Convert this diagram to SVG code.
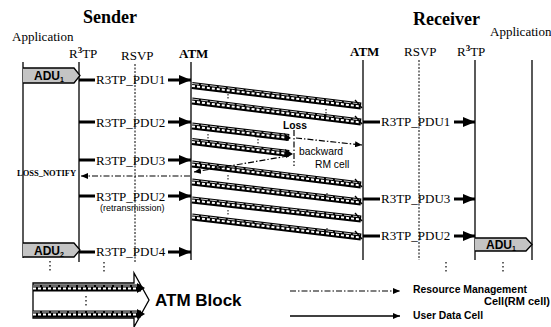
<svg xmlns="http://www.w3.org/2000/svg" width="551" height="327" viewBox="0 0 551 327">
<style>
.title{font-family:"Liberation Serif",serif;font-weight:bold;font-size:18px;fill:#000}
.app{font-family:"Liberation Serif",serif;font-size:13px;fill:#000}
.col{font-family:"Liberation Serif",serif;font-size:13px;fill:#000}
.colb{font-family:"Liberation Serif",serif;font-size:13px;font-weight:bold;fill:#000}
.pdu{font-family:"Liberation Serif",serif;font-size:13px;fill:#000}
.sm{font-family:"Liberation Sans",Arial,sans-serif;font-size:9px;fill:#000}
.lbl{font-family:"Liberation Sans",Arial,sans-serif;font-size:10.3px;fill:#000}
.lblb{font-family:"Liberation Sans",Arial,sans-serif;font-size:10.3px;font-weight:bold;fill:#000}
.leg{font-family:"Liberation Sans",Arial,sans-serif;font-size:11px;font-weight:bold;fill:#000}
.adu{font-family:"Liberation Sans",Arial,sans-serif;font-size:12px;font-weight:bold;fill:#000}
.big{font-family:"Liberation Sans",Arial,sans-serif;font-size:17px;font-weight:bold;fill:#000}
.ln{stroke:#000;stroke-width:1.3;fill:none}
.dl{stroke:#000;stroke-width:1;stroke-dasharray:2 1.5;fill:none}
.dots{stroke:#000;stroke-width:1.2;stroke-dasharray:1.5 2.5;fill:none}
.thick{stroke:#000;stroke-width:3;fill:none}
.bb{stroke:#000;stroke-width:7;fill:none}
.bw{stroke:#fff;stroke-width:2;stroke-dasharray:3 2;fill:none}
.bt{stroke:#fff;stroke-width:0.8;stroke-dasharray:7 2;fill:none}
.dd{stroke:#000;stroke-width:1.2;stroke-dasharray:6 2 1.5 2;fill:none}
.tick{stroke:#000;stroke-width:1;stroke-dasharray:1.5 1.5}
.aduf{fill:#c4c4c4;stroke:#000;stroke-width:1.3}
</style>
<defs>
<marker id="tri" markerUnits="userSpaceOnUse" markerWidth="13" markerHeight="10" refX="12" refY="5" orient="auto">
<path d="M0,0 L12,5 L0,10 Z" fill="#000"/>
</marker>
<marker id="sa" markerUnits="userSpaceOnUse" markerWidth="8" markerHeight="6" refX="7" refY="3" orient="auto">
<path d="M0,0 L7,3 L0,6 Z" fill="#000"/>
</marker>
</defs>
<rect width="551" height="327" fill="#fff"/>

<g id="titles">
<text class="title" x="83" y="23">Sender</text>
<text class="title" x="413" y="25">Receiver</text>
</g>

<g id="sender-app">
<text class="app" x="12" y="41">Application</text>
<line class="ln" x1="23" y1="62" x2="23" y2="258"/>
</g>
<g id="sender-r3tp">
<text class="col" x="69" y="58">R<tspan font-size="9" font-weight="bold" dy="-5">3</tspan><tspan dy="5">TP</tspan></text>
<line class="ln" x1="79" y1="62" x2="79" y2="262"/>
</g>
<g id="sender-rsvp">
<text class="col" x="121" y="60">RSVP</text>
<line class="dl" x1="135" y1="64" x2="135" y2="262"/>
</g>
<g id="sender-atm">
<text class="colb" x="179" y="58">ATM</text>
<line class="ln" x1="191" y1="62" x2="191" y2="260"/>
</g>
<g id="receiver-atm">
<text class="colb" x="350" y="56">ATM</text>
<line class="ln" x1="363" y1="60" x2="363" y2="260"/>
</g>
<g id="receiver-rsvp">
<text class="col" x="404" y="56">RSVP</text>
<line class="dl" x1="419" y1="60" x2="419" y2="260"/>
</g>
<g id="receiver-r3tp">
<text class="col" x="457" y="56">R<tspan font-size="9" font-weight="bold" dy="-5">3</tspan><tspan dy="5">TP</tspan></text>
<line class="ln" x1="475" y1="60" x2="475" y2="260"/>
</g>
<g id="receiver-app">
<text class="app" x="490" y="36">Application</text>
<line class="ln" x1="532" y1="60" x2="532" y2="260"/>
</g>

<g id="adu1-sender">
<path class="aduf" d="M23,68 H74 L80,75.5 L74,83 H23"/>
<text class="adu" x="34" y="80">ADU<tspan font-size="7" dy="2">1</tspan></text>
</g>
<g id="adu2-sender">
<path class="aduf" d="M23,243 H74 L80,250 L74,257 H23"/>
<text class="adu" x="34" y="255">ADU<tspan font-size="7" dy="2">2</tspan></text>
</g>
<g id="adu1-receiver">
<path class="aduf" d="M475,238 H526 L532,244.5 L526,251 H475"/>
<text class="adu" x="486" y="249">ADU<tspan font-size="7" dy="2">1</tspan></text>
</g>

<g id="connectors">
<line class="thick" x1="79" y1="80" x2="95" y2="80"/>
<text class="pdu" x="96" y="84">R3TP_PDU1</text>
<line class="thick" x1="168" y1="80" x2="191" y2="80" marker-end="url(#tri)"/>

<line class="thick" x1="79" y1="122" x2="95" y2="122"/>
<text class="pdu" x="96" y="127">R3TP_PDU2</text>
<line class="thick" x1="168" y1="122" x2="191" y2="122" marker-end="url(#tri)"/>

<line class="thick" x1="79" y1="160" x2="95" y2="160"/>
<text class="pdu" x="96" y="165">R3TP_PDU3</text>
<line class="thick" x1="168" y1="160" x2="191" y2="160" marker-end="url(#tri)"/>

<line class="thick" x1="79" y1="196" x2="95" y2="196"/>
<text class="pdu" x="96" y="201">R3TP_PDU2</text>
<text class="sm" x="100" y="211">(retransmission)</text>
<line class="thick" x1="168" y1="196" x2="191" y2="196" marker-end="url(#tri)"/>

<line class="thick" x1="79" y1="252" x2="95" y2="252"/>
<text class="pdu" x="96" y="256">R3TP_PDU4</text>
<line class="thick" x1="168" y1="252" x2="191" y2="252" marker-end="url(#tri)"/>

<g id="band1"><line class="bb" x1="192" y1="85.5" x2="361" y2="106"/><line class="bw" x1="192" y1="86" x2="361" y2="106.5"/><line class="bt" x1="192" y1="83.5" x2="361" y2="104"/><line class="ln" x1="355" y1="100" x2="362" y2="108"/></g>
<g id="band2"><line class="bb" x1="192" y1="101" x2="361" y2="122"/><line class="bw" x1="192" y1="101.5" x2="361" y2="122.5"/><line class="bt" x1="192" y1="99" x2="361" y2="120"/><line class="ln" x1="355" y1="116" x2="362" y2="124"/></g>
<g id="band3"><line class="bb" x1="192" y1="126" x2="289" y2="137.5"/><line class="bw" x1="192" y1="126.5" x2="289" y2="138"/><line class="bt" x1="192" y1="124" x2="289" y2="135.5"/></g>
<g id="band4"><line class="bb" x1="192" y1="141.5" x2="289" y2="153.5"/><line class="bw" x1="192" y1="142" x2="289" y2="154"/><line class="bt" x1="192" y1="139.5" x2="289" y2="151.5"/></g>
<g id="band5"><line class="bb" x1="192" y1="164" x2="361" y2="185"/><line class="bw" x1="192" y1="164.5" x2="361" y2="185.5"/><line class="bt" x1="192" y1="162" x2="361" y2="183"/><line class="ln" x1="355" y1="179" x2="362" y2="187"/></g>
<g id="band6"><line class="bb" x1="192" y1="182" x2="361" y2="202"/><line class="bw" x1="192" y1="182.5" x2="361" y2="202.5"/><line class="bt" x1="192" y1="180" x2="361" y2="200"/><line class="ln" x1="355" y1="196" x2="362" y2="204"/></g>
<g id="band7"><line class="bb" x1="192" y1="200" x2="361" y2="219"/><line class="bw" x1="192" y1="200.5" x2="361" y2="219.5"/><line class="bt" x1="192" y1="198" x2="361" y2="217"/><line class="ln" x1="355" y1="213" x2="362" y2="221"/></g>
<g id="band8"><line class="bb" x1="192" y1="217" x2="361" y2="237"/><line class="bw" x1="192" y1="217.5" x2="361" y2="237.5"/><line class="bt" x1="192" y1="215" x2="361" y2="235"/><line class="ln" x1="355" y1="231" x2="362" y2="239"/></g>
<path d="M284,133 L291,138 L286,141 Z M285,149 L293,154 L286,158 Z" fill="#000"/>

<line class="tick" x1="228" y1="94" x2="228" y2="100"/>
<line class="tick" x1="326" y1="109" x2="326" y2="116"/>
<line class="tick" x1="208" y1="134" x2="208" y2="139"/>
<line class="tick" x1="258" y1="139" x2="258" y2="145"/>
<line class="tick" x1="228" y1="175" x2="228" y2="180"/>
<line class="tick" x1="327" y1="193" x2="327" y2="199"/>
<line class="tick" x1="228" y1="210" x2="228" y2="215"/>
<line class="tick" x1="327" y1="228" x2="327" y2="234"/>

<text class="lblb" x="283" y="129">Loss</text>
<line class="dd" x1="294" y1="130" x2="294" y2="166"/>
<line class="dd" x1="296" y1="138" x2="362" y2="145" marker-end="url(#sa)"/>
<text class="lbl" x="299" y="155">backward</text>
<text class="lbl" x="315" y="168">RM cell</text>
<line class="dd" x1="288" y1="156" x2="194" y2="172" marker-end="url(#sa)"/>
<line class="dd" x1="190" y1="176" x2="81" y2="176" marker-end="url(#sa)"/>
<text x="17" y="176" font-family="'Liberation Serif',serif" font-size="8.5" font-weight="bold">LOSS_NOTIFY</text>

<line class="thick" x1="363" y1="122" x2="380" y2="122"/>
<text class="pdu" x="381" y="126">R3TP_PDU1</text>
<line class="thick" x1="454" y1="122" x2="475" y2="122" marker-end="url(#tri)"/>

<line class="thick" x1="363" y1="199" x2="380" y2="199"/>
<text class="pdu" x="381" y="203">R3TP_PDU3</text>
<line class="thick" x1="454" y1="199" x2="475" y2="199" marker-end="url(#tri)"/>

<line class="thick" x1="363" y1="236" x2="380" y2="236"/>
<text class="pdu" x="381" y="240">R3TP_PDU2</text>
<line class="thick" x1="454" y1="236" x2="475" y2="236" marker-end="url(#tri)"/>
</g>

<g id="continuation-dots">
<line class="dots" x1="50" y1="261" x2="50" y2="272"/>
<line class="dots" x1="104" y1="262" x2="104" y2="273"/>
<line class="dots" x1="446" y1="262" x2="446" y2="273"/>
<line class="dots" x1="503" y1="262" x2="503" y2="273"/>
</g>

<g id="legend-atm-block">
<path d="M33,283 H134 V273 L149,300 L134,327 V318 H33 Z" fill="#fff" stroke="#000" stroke-width="1.3"/>
<line class="bb" x1="33" y1="288" x2="141" y2="288"/>
<line class="bw" x1="33" y1="288.5" x2="141" y2="288.5"/>
<line class="bt" x1="33" y1="286" x2="141" y2="286"/>
<line class="bb" x1="33" y1="314" x2="141" y2="314"/>
<line class="bw" x1="33" y1="314.5" x2="141" y2="314.5"/>
<line class="bt" x1="33" y1="312" x2="141" y2="312"/>
<path d="M137,283 L145,288 L137,293 Z M137,309 L145,314 L137,319 Z" fill="#000"/>
<line class="dots" x1="86" y1="296" x2="86" y2="308"/>
<text class="big" x="155" y="306">ATM Block</text>
</g>

<g id="legend-lines">
<line class="dd" x1="290" y1="291" x2="400" y2="291" marker-end="url(#sa)"/>
<text class="leg" x="413" y="293" textLength="114" lengthAdjust="spacingAndGlyphs">Resource Management</text>
<text class="leg" x="550" y="305" text-anchor="end">Cell(RM cell)</text>
<line class="ln" x1="290" y1="316" x2="400" y2="316" marker-end="url(#sa)"/>
<text class="leg" x="413" y="319" textLength="70" lengthAdjust="spacingAndGlyphs">User Data Cell</text>
</g>
</svg>
